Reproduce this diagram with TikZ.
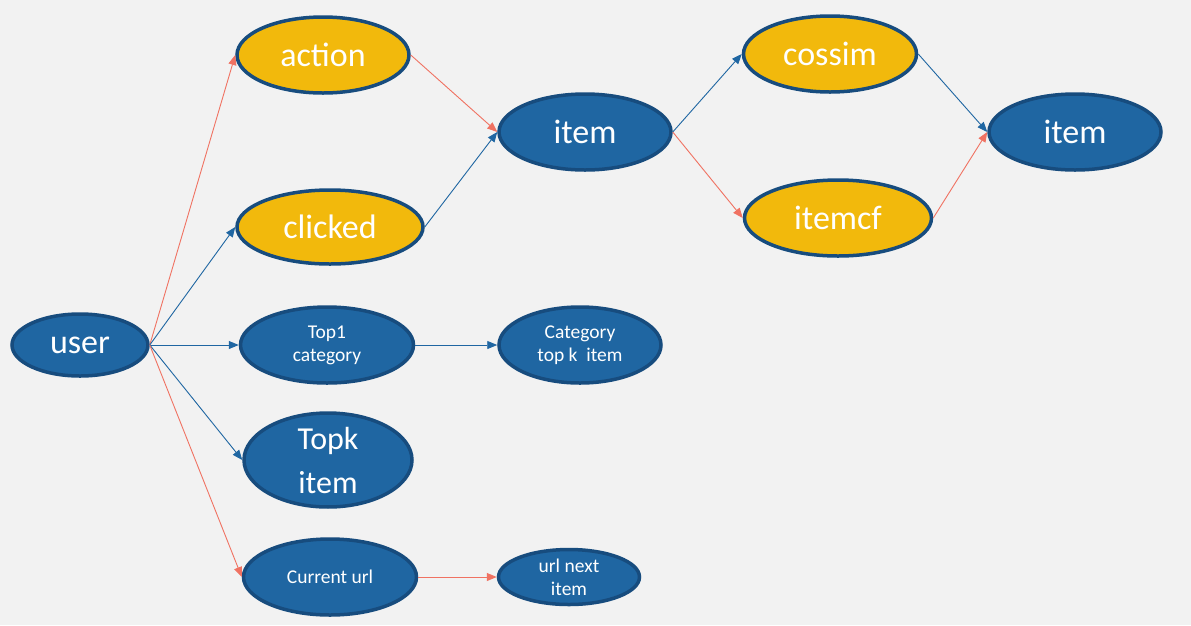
\documentclass[tikz,border=0pt]{standalone}
\usepackage{fontspec}
\setmainfont{Carlito}
\usetikzlibrary{arrows.meta, shapes.geometric}
\definecolor{bgray}{HTML}{F2F2F2}
\definecolor{nodeblue}{HTML}{1F66A2}
\definecolor{rimblue}{HTML}{174C7E}
\definecolor{nodegold}{HTML}{F2B90C}
\definecolor{linkred}{HTML}{F07262}
\tikzset{
    bluenode/.style={ellipse, draw=rimblue, line width=3.5pt, fill=nodeblue, text=white, inner sep=0pt, align=center},
    goldnode/.style={bluenode, fill=nodegold},
    bigtext/.style={font=\fontsize{34}{40}\selectfont},
    smalltext/.style={font=\fontsize{19.5}{23}\selectfont},
    redarrow/.style={-{Triangle[length=10pt, width=8pt]}, linkred, line width=0.9pt},
    bluearrow/.style={-{Triangle[length=10pt, width=8pt]}, nodeblue, line width=0.9pt}
}

\begin{document}
\begin{tikzpicture}[x=1pt, y=-1pt]
    \fill[bgray] (0,0) rectangle (1191,625);
    \useasboundingbox (0,0) rectangle (1191,625);
    % left column
    \node[bluenode, bigtext, minimum width=136pt, minimum height=62pt] (user) at (80,345) {user};
    \node[goldnode, bigtext, minimum width=172pt, minimum height=76pt] (action) at (323,55) {action};
    \node[goldnode, bigtext, minimum width=186pt, minimum height=74pt] (clicked) at (330,227) {clicked};
    \node[bluenode, smalltext, minimum width=173pt, minimum height=76pt] (topcat) at (327,345) {Top1\\category};
    \node[bluenode, font=\fontsize{32}{44}\selectfont, minimum width=168pt, minimum height=74pt] (topk) at (328,460) {Topk\\item};
    \node[bluenode, smalltext, minimum width=173pt, minimum height=76pt] (curl) at (330,577) {Current url};
    % middle column
    \node[bluenode, bigtext, minimum width=172pt, minimum height=76pt] (item) at (585,132) {item};
    \node[bluenode, smalltext, minimum width=162pt, minimum height=76pt] (catitem) at (580,345) {Category\\top k\ \ item};
    \node[bluenode, smalltext, minimum width=141pt, minimum height=55pt] (urlnext) at (569,577) {url next\\item};
    % right columns
    \node[goldnode, bigtext, minimum width=173pt, minimum height=76pt] (cossim) at (830,54) {cossim};
    \node[goldnode, bigtext, minimum width=187pt, minimum height=76pt] (itemcf) at (838,218) {itemcf};
    \node[bluenode, bigtext, minimum width=172pt, minimum height=76pt] (result) at (1075,132) {item};

    \draw[redarrow] (user.east) -- (action.west);
    \draw[bluearrow] (user.east) -- (clicked.west);
    \draw[bluearrow] (user.east) -- (topcat.west);
    \draw[bluearrow] (user.east) -- (topk.west);
    \draw[redarrow] (user.east) -- (curl.west);
    \draw[redarrow] (action.east) -- (item.west);
    \draw[bluearrow] (clicked.east) -- (item.west);
    \draw[bluearrow] (topcat.east) -- (catitem.west);
    \draw[redarrow] (curl.east) -- (urlnext.west);
    \draw[bluearrow] (item.east) -- (cossim.west);
    \draw[redarrow] (item.east) -- (itemcf.west);
    \draw[bluearrow] (cossim.east) -- (result.west);
    \draw[redarrow] (itemcf.east) -- (result.west);
\end{tikzpicture}
\end{document}
